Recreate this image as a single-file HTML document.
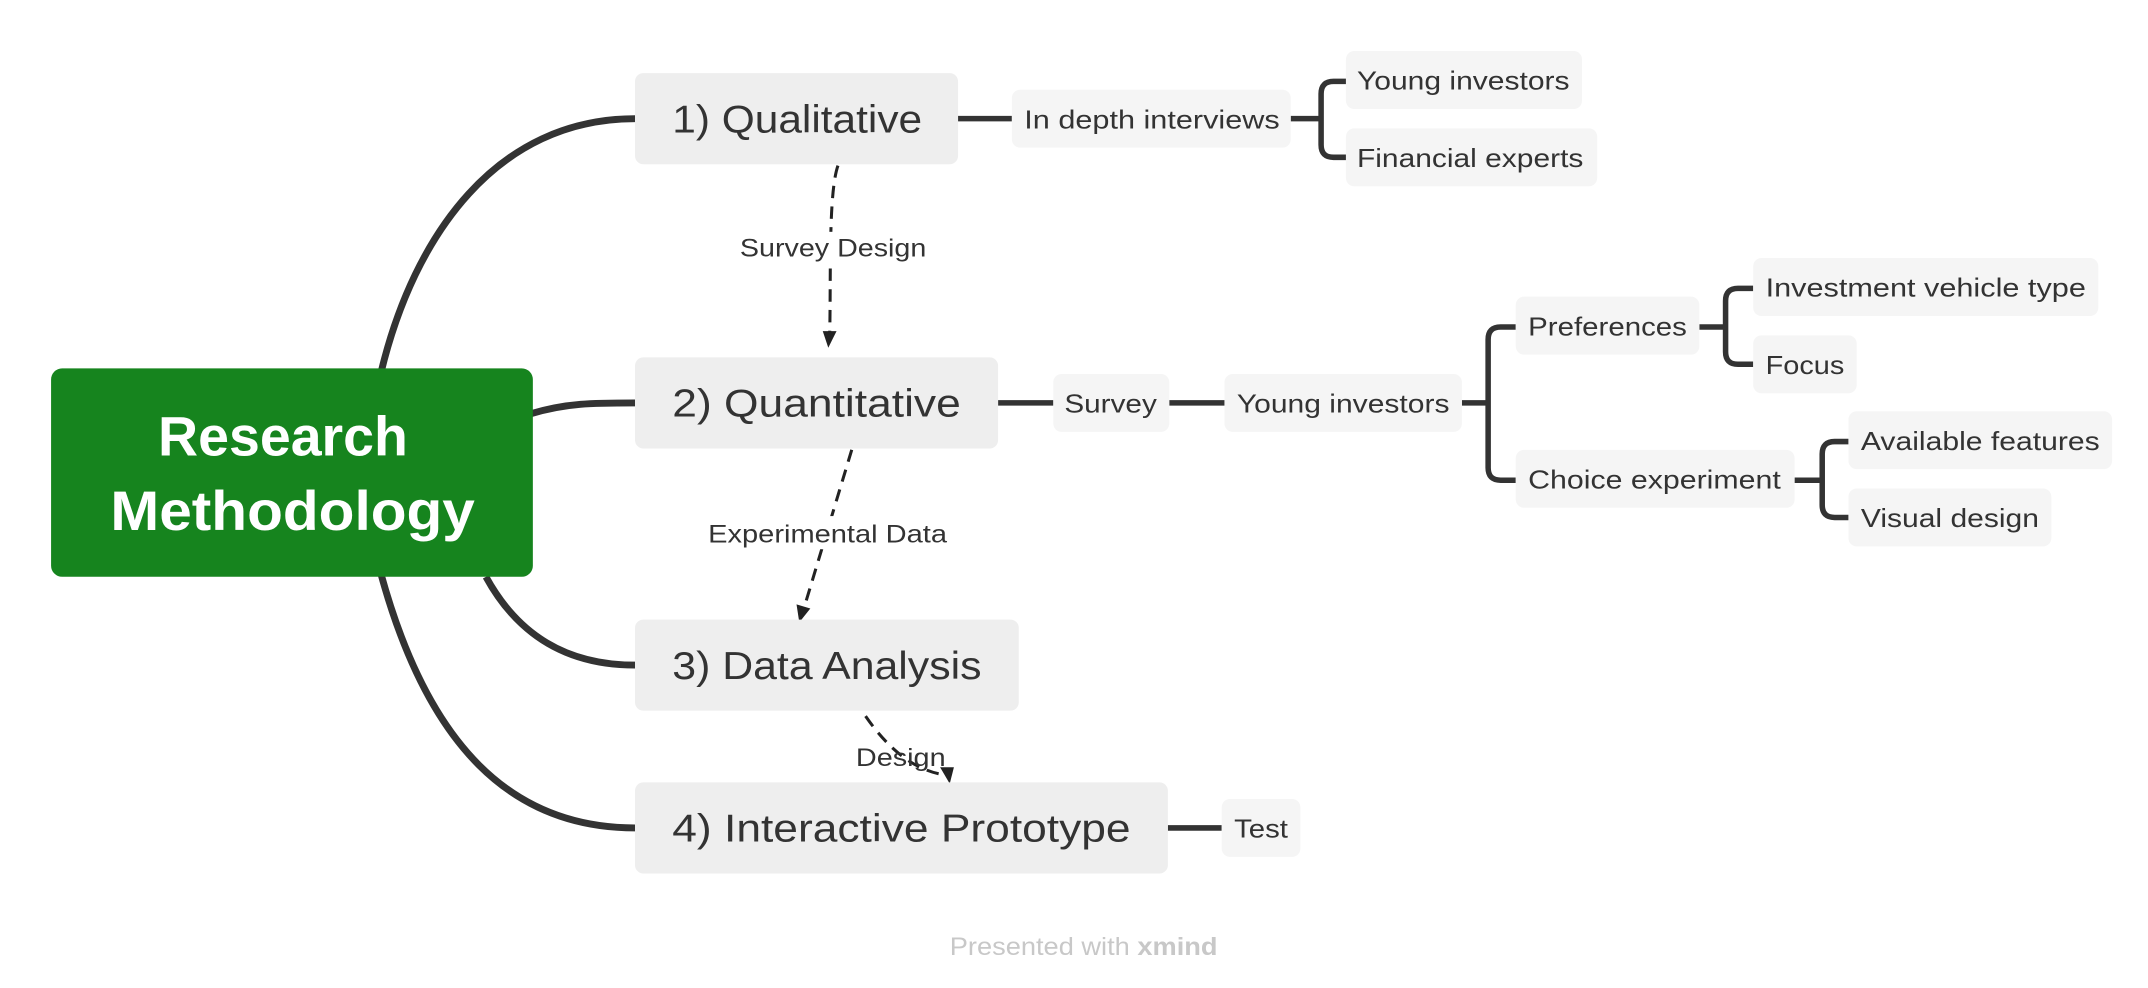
<!DOCTYPE html>
<html><head><meta charset="utf-8"><style>
html,body{margin:0;padding:0;background:#fff;}
svg{display:block;}
text{font-family:"Liberation Sans",sans-serif;fill:#333;}
</style></head><body>
<svg width="2148" height="988" viewBox="0 0 1556 716" preserveAspectRatio="none" xmlns="http://www.w3.org/2000/svg">
<g fill="none" stroke="#333" stroke-width="5" stroke-linecap="butt">
<path d="M276 270 C300 170 360 86 460 86"/>
<path d="M384 300 C410 292 430 292 460 292"/>
<path d="M352 418 C375 460 410 482 460 482"/>
<path d="M276 416 C310 540 370 600 460 600"/>
</g>
<g fill="none" stroke="#333" stroke-width="4">
<path d="M694 86 H733"/>
<path d="M935 86 H957 M975 59 H966 Q957 59 957 68 V105 Q957 114 966 114 H975"/>
<path d="M723 292 H763 M847 292 H887"/>
<path d="M1059 292 H1078 M1098 237 H1087 Q1078 237 1078 246 V339 Q1078 348 1087 348 H1098"/>
<path d="M1231 237 H1250 M1270 209 H1259 Q1250 209 1250 218 V255 Q1250 264 1259 264 H1270"/>
<path d="M1300 348 H1320 M1339 320 H1329 Q1320 320 1320 329 V366 Q1320 375 1329 375 H1339"/>
<path d="M846 600 H885"/>
</g>
<g fill="none" stroke="#222" stroke-width="2.2" stroke-dasharray="9,6">
<path d="M607 120 C600 140 602 200 601 244"/>
<path d="M617 326 L582 442"/>
<path d="M627 519 C645 545 665 560 688 562"/>
</g>
<g fill="#222">
<polygon points="596,240 606,240 600,252"/>
<polygon points="577,438 587,441 579,451"/>
<polygon points="681,556 691,556 688,568"/>
</g>
<rect x="37" y="267" width="349" height="151" rx="8" fill="#16841e"/>
<text x="205" y="330" text-anchor="middle" font-size="40" font-weight="bold" style="fill:#fff" textLength="181" lengthAdjust="spacingAndGlyphs">Research</text>
<text x="212" y="384" text-anchor="middle" font-size="40" font-weight="bold" style="fill:#fff" textLength="264" lengthAdjust="spacingAndGlyphs">Methodology</text>
<g fill="#eeeeee">
<rect x="460" y="53" width="234" height="66" rx="6"/>
<rect x="460" y="259" width="263" height="66" rx="6"/>
<rect x="460" y="449" width="278" height="66" rx="6"/>
<rect x="460" y="567" width="386" height="66" rx="6"/>
</g>
<g font-size="28">
<text x="487" y="96" textLength="181" lengthAdjust="spacingAndGlyphs">1) Qualitative</text>
<text x="487" y="302" textLength="209" lengthAdjust="spacingAndGlyphs">2) Quantitative</text>
<text x="487" y="492" textLength="224" lengthAdjust="spacingAndGlyphs">3) Data Analysis</text>
<text x="487" y="610" textLength="332" lengthAdjust="spacingAndGlyphs">4) Interactive Prototype</text>
</g>
<g fill="#f5f5f5">
<rect x="733" y="65" width="202" height="42" rx="6"/>
<rect x="975" y="37" width="171" height="42" rx="6"/>
<rect x="975" y="93" width="182" height="42" rx="6"/>
<rect x="763" y="271" width="84" height="42" rx="6"/>
<rect x="887" y="271" width="172" height="42" rx="6"/>
<rect x="1098" y="215" width="133" height="42" rx="6"/>
<rect x="1098" y="326" width="202" height="42" rx="6"/>
<rect x="1270" y="187" width="250" height="42" rx="6"/>
<rect x="1270" y="243" width="75" height="42" rx="6"/>
<rect x="1339" y="298" width="191" height="42" rx="6"/>
<rect x="1339" y="354" width="147" height="42" rx="6"/>
<rect x="885" y="579" width="57" height="42" rx="6"/>
</g>
<g font-size="19">
<text x="742" y="93" textLength="185" lengthAdjust="spacingAndGlyphs">In depth interviews</text>
<text x="983" y="65" textLength="154" lengthAdjust="spacingAndGlyphs">Young investors</text>
<text x="983" y="121" textLength="164" lengthAdjust="spacingAndGlyphs">Financial experts</text>
<text x="771" y="299" textLength="67" lengthAdjust="spacingAndGlyphs">Survey</text>
<text x="896" y="299" textLength="154" lengthAdjust="spacingAndGlyphs">Young investors</text>
<text x="1107" y="243" textLength="115" lengthAdjust="spacingAndGlyphs">Preferences</text>
<text x="1107" y="354" textLength="183" lengthAdjust="spacingAndGlyphs">Choice experiment</text>
<text x="1279" y="215" textLength="232" lengthAdjust="spacingAndGlyphs">Investment vehicle type</text>
<text x="1279" y="271" textLength="57" lengthAdjust="spacingAndGlyphs">Focus</text>
<text x="1348" y="326" textLength="173" lengthAdjust="spacingAndGlyphs">Available features</text>
<text x="1348" y="382" textLength="129" lengthAdjust="spacingAndGlyphs">Visual design</text>
<text x="894" y="607" textLength="39" lengthAdjust="spacingAndGlyphs">Test</text>
</g>
<g font-size="18">
<rect x="533" y="168" width="140" height="24" fill="#fff"/>
<text x="536" y="186" textLength="135" lengthAdjust="spacingAndGlyphs">Survey Design</text>
<rect x="510" y="374" width="178" height="24" fill="#fff"/>
<text x="513" y="393" textLength="173" lengthAdjust="spacingAndGlyphs">Experimental Data</text>
<text x="620" y="555" textLength="65" lengthAdjust="spacingAndGlyphs">Design</text>
</g>
<text x="688" y="692" font-size="18" style="fill:#c8c8c8" textLength="194" lengthAdjust="spacingAndGlyphs">Presented with <tspan font-weight="bold">xmind</tspan></text>
</svg>
</body></html>
